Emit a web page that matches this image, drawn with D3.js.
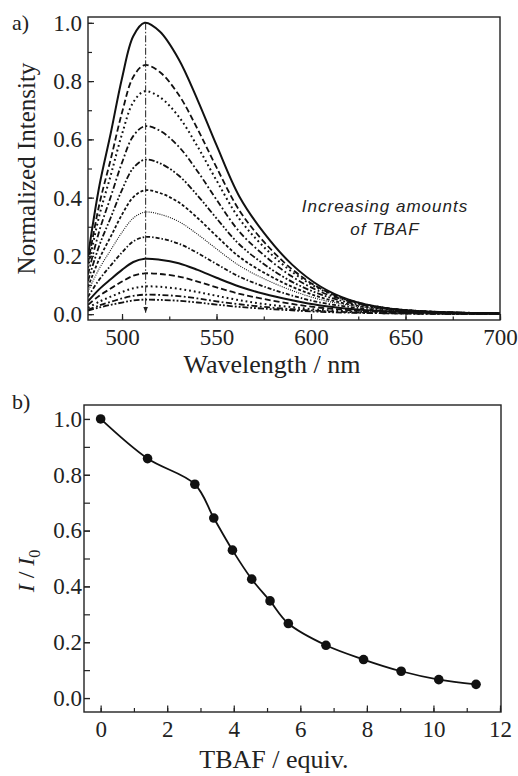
<!DOCTYPE html>
<html>
<head>
<meta charset="utf-8">
<script src="https://cdn.jsdelivr.net/npm/d3@7"></script>
<style>
  body { margin: 0; background: #fff; }
  svg { display: block; }
  .tick line { stroke: #222; stroke-width: 1.2; }
</style>
</head>
<body>
<div id="chart"></div>
<script>
// panel a: emission spectra (normalized) for each TBAF addition
const wavelengths = [482, 488, 494, 500, 506, 512, 520, 530, 540, 550, 562, 575, 590, 605, 620, 640, 665, 700];
const spectra = [
  [0.200, 0.440, 0.620, 0.810, 0.955, 1.000, 0.970, 0.875, 0.735, 0.580, 0.405, 0.280, 0.170, 0.095, 0.050, 0.020, 0.008, 0.002],
  [0.174, 0.377, 0.531, 0.692, 0.815, 0.855, 0.831, 0.753, 0.635, 0.504, 0.357, 0.249, 0.154, 0.088, 0.048, 0.021, 0.008, 0.003],
  [0.159, 0.339, 0.476, 0.618, 0.728, 0.765, 0.745, 0.678, 0.575, 0.459, 0.328, 0.231, 0.145, 0.085, 0.048, 0.021, 0.008, 0.003],
  [0.136, 0.286, 0.402, 0.520, 0.612, 0.645, 0.630, 0.575, 0.490, 0.393, 0.284, 0.203, 0.129, 0.077, 0.045, 0.020, 0.008, 0.003],
  [0.114, 0.236, 0.331, 0.427, 0.502, 0.530, 0.518, 0.476, 0.407, 0.329, 0.240, 0.172, 0.111, 0.068, 0.040, 0.019, 0.007, 0.003],
  [0.093, 0.190, 0.266, 0.342, 0.402, 0.425, 0.416, 0.384, 0.330, 0.268, 0.197, 0.143, 0.094, 0.058, 0.034, 0.017, 0.007, 0.003],
  [0.078, 0.157, 0.220, 0.281, 0.330, 0.350, 0.343, 0.318, 0.274, 0.224, 0.167, 0.122, 0.081, 0.050, 0.031, 0.015, 0.006, 0.003],
  [0.060, 0.119, 0.167, 0.212, 0.250, 0.265, 0.260, 0.242, 0.210, 0.172, 0.129, 0.095, 0.064, 0.040, 0.025, 0.012, 0.005, 0.002],
  [0.044, 0.086, 0.120, 0.152, 0.179, 0.190, 0.187, 0.175, 0.152, 0.125, 0.095, 0.070, 0.048, 0.030, 0.019, 0.010, 0.004, 0.002],
  [0.032, 0.063, 0.088, 0.112, 0.132, 0.140, 0.138, 0.129, 0.112, 0.092, 0.070, 0.052, 0.035, 0.022, 0.014, 0.007, 0.003, 0.001],
  [0.022, 0.043, 0.060, 0.076, 0.089, 0.095, 0.094, 0.087, 0.076, 0.063, 0.048, 0.035, 0.024, 0.015, 0.010, 0.005, 0.002, 0.001],
  [0.015, 0.030, 0.042, 0.054, 0.063, 0.067, 0.066, 0.062, 0.054, 0.044, 0.034, 0.025, 0.017, 0.011, 0.007, 0.003, 0.001, 0.001],
  [0.012, 0.023, 0.032, 0.040, 0.047, 0.050, 0.049, 0.046, 0.040, 0.033, 0.025, 0.019, 0.013, 0.008, 0.005, 0.003, 0.001, 0.000]
];
const peakWavelength = 512.5;
const xTicksA = [500, 550, 600, 650, 700];
const yTicks = [0.0, 0.2, 0.4, 0.6, 0.8, 1.0];

// panel b: relative intensity vs equivalents of TBAF
const tbafEquiv = [0, 1.41, 2.83, 3.40, 3.96, 4.54, 5.09, 5.64, 6.77, 7.90, 9.03, 10.16, 11.28];
const relIntensity = [1.0, 0.858, 0.766, 0.645, 0.530, 0.426, 0.348, 0.267, 0.189, 0.138, 0.096, 0.066, 0.049];
const xTicksB = [0, 2, 4, 6, 8, 10, 12];

// line styles cycle like the original plotting software
const dashes = [null, "6,3", "1.8,3", "6,2.5,1.8,2.5", "6,2,1.8,2,1.8,2", "3,2", "1,1.2", "4,2,1.5,2",
                null, "6,3", "1.8,3", "6,2.5,1.8,2.5", "6,2,1.8,2,1.8,2"];
const widths = [2, 1.8, 2, 1.8, 1.8, 1.8, 1.1, 1.8, 2, 1.8, 2, 1.8, 1.8];

const W = 518, H = 776
const serif = '"Liberation Serif", "Times New Roman", serif'

const svg = d3.select("#chart").append("svg")
    .attr("width", W)
    .attr("height", H)

svg.append("defs").append("marker")
    .attr("id", "arrow")
    .attr("viewBox", "0 0 10 10")
    .attr("refX", 10).attr("refY", 5)
    .attr("markerWidth", 6).attr("markerHeight", 6)
    .attr("markerUnits", "userSpaceOnUse")
    .attr("orient", "auto")
  .append("path")
    .attr("d", "M0,1 L10,5 L0,9 Z")
    .attr("fill", "#222")

function styleTicks(g) {
  g.select(".domain").remove()
  g.attr("font-family", serif).attr("font-size", 23)
  g.selectAll("text").attr("fill", "#222")
}

// ---------- panel a ----------
var a = {left: 88, right: 500, top: 17, bottom: 320}
var xA = d3.scaleLinear().domain([482, 700]).range([a.left, a.right])
var yA = d3.scaleLinear().domain([-0.02, 1.02]).range([a.bottom, a.top])

svg.append("clipPath").attr("id", "clipA")
  .append("rect").attr("x", a.left).attr("y", a.top)
  .attr("width", a.right - a.left).attr("height", a.bottom - a.top)

var lineA = d3.line()
    .x(function(d, i) { return xA(wavelengths[i]) })
    .y(function(d) { return yA(d) })
    .curve(d3.curveCatmullRom.alpha(0.5))

var gA = svg.append("g").attr("clip-path", "url(#clipA)")
gA.selectAll("path.spec")
    .data(spectra)
    .enter().append("path")
    .attr("class", "spec")
    .attr("d", lineA)
    .attr("fill", "none")
    .attr("stroke", "#111")
    .attr("stroke-width", function(d, i) { return widths[i] })
    .attr("stroke-dasharray", function(d, i) { return dashes[i] })

// arrow marking the decrease at the emission maximum
svg.append("line")
    .attr("x1", xA(peakWavelength)).attr("x2", xA(peakWavelength))
    .attr("y1", yA(1.0)).attr("y2", yA(0.005))
    .attr("stroke", "#222")
    .attr("stroke-width", 1)
    .attr("stroke-dasharray", "7,2,1.5,2")
    .attr("marker-end", "url(#arrow)")

svg.append("g")
    .attr("transform", "translate(0," + a.bottom + ")")
    .call(d3.axisBottom(xA).tickValues(d3.range(500, 701, 25)).tickSize(-3.5).tickFormat(""))
    .call(styleTicks)
svg.append("g")
    .attr("transform", "translate(0," + a.bottom + ")")
    .call(d3.axisBottom(xA).tickValues(xTicksA).tickSize(-6).tickPadding(9).tickFormat(d3.format("d")))
    .call(styleTicks)
svg.append("g")
    .attr("transform", "translate(" + a.left + ",0)")
    .call(d3.axisLeft(yA).tickValues(d3.range(0, 1.01, 0.1)).tickSize(-4).tickFormat(""))
    .call(styleTicks)
svg.append("g")
    .attr("transform", "translate(" + a.left + ",0)")
    .call(d3.axisLeft(yA).tickValues(yTicks).tickSize(-6).tickPadding(6).tickFormat(d3.format(".1f")))
    .call(styleTicks)

svg.append("rect")
    .attr("x", a.left).attr("y", a.top)
    .attr("width", a.right - a.left).attr("height", a.bottom - a.top)
    .attr("fill", "none").attr("stroke", "#222").attr("stroke-width", 1.4)

svg.append("text").attr("x", 12).attr("y", 30)
    .attr("font-family", serif).attr("font-size", 22).attr("fill", "#222").text("a)")

svg.append("text")
    .attr("transform", "translate(35," + ((a.top + a.bottom) / 2) + ") rotate(-90)")
    .attr("text-anchor", "middle")
    .attr("font-family", serif).attr("font-size", 25).attr("fill", "#222")
    .text("Normalized Intensity")

svg.append("text").attr("x", 272).attr("y", 373)
    .attr("text-anchor", "middle")
    .attr("font-family", serif).attr("font-size", 26).attr("fill", "#222")
    .text("Wavelength / nm")

var note = svg.append("text")
    .attr("text-anchor", "middle")
    .attr("font-family", '"Liberation Sans", Arial, sans-serif')
    .attr("font-style", "italic").attr("font-size", 17).attr("letter-spacing", 1).attr("fill", "#222")
note.append("tspan").attr("x", 385).attr("y", 212).text("Increasing amounts")
note.append("tspan").attr("x", 385).attr("y", 235).text("of TBAF")

// ---------- panel b ----------
var b = {left: 84, right: 501, top: 405, bottom: 712}
var xB = d3.scaleLinear().domain([-0.5, 12.03]).range([b.left, b.right])
var yB = d3.scaleLinear().domain([-0.05, 1.05]).range([b.bottom, b.top])

var lineB = d3.line()
    .x(function(d, i) { return xB(tbafEquiv[i]) })
    .y(function(d) { return yB(d) })
    .curve(d3.curveCatmullRom.alpha(0.5))

svg.append("path")
    .datum(relIntensity)
    .attr("d", lineB)
    .attr("fill", "none")
    .attr("stroke", "#111")
    .attr("stroke-width", 1.8)

svg.selectAll("circle.pt")
    .data(relIntensity)
    .enter().append("circle")
    .attr("class", "pt")
    .attr("cx", function(d, i) { return xB(tbafEquiv[i]) })
    .attr("cy", function(d) { return yB(d) })
    .attr("r", 4.8)
    .attr("fill", "#111")

svg.append("g")
    .attr("transform", "translate(0," + b.bottom + ")")
    .call(d3.axisBottom(xB).tickValues(d3.range(0, 13, 1)).tickSize(-4).tickFormat(""))
    .call(styleTicks)
svg.append("g")
    .attr("transform", "translate(0," + b.bottom + ")")
    .call(d3.axisBottom(xB).tickValues(xTicksB).tickSize(-6.5).tickPadding(9).tickFormat(d3.format("d")))
    .call(styleTicks)
svg.append("g")
    .attr("transform", "translate(" + b.left + ",0)")
    .call(d3.axisLeft(yB).tickValues(d3.range(0, 1.01, 0.1)).tickSize(-6).tickFormat(""))
    .call(styleTicks)
svg.append("g")
    .attr("transform", "translate(" + b.left + ",0)")
    .call(d3.axisLeft(yB).tickValues(yTicks).tickSize(-6).tickPadding(2).tickFormat(d3.format(".1f")))
    .call(styleTicks)

svg.append("rect")
    .attr("x", b.left).attr("y", b.top)
    .attr("width", b.right - b.left).attr("height", b.bottom - b.top)
    .attr("fill", "none").attr("stroke", "#222").attr("stroke-width", 1.4)

svg.append("text").attr("x", 12).attr("y", 409)
    .attr("font-family", serif).attr("font-size", 22).attr("fill", "#222").text("b)")

var yLab = svg.append("text")
    .attr("transform", "translate(34,571) rotate(-90)")
    .attr("text-anchor", "middle")
    .attr("font-family", serif).attr("font-size", 24).attr("fill", "#222")
yLab.append("tspan").attr("font-style", "italic").text("I")
yLab.append("tspan").text(" / ")
yLab.append("tspan").attr("font-style", "italic").text("I")
yLab.append("tspan").attr("font-size", 16).attr("dy", 6).text("0")

svg.append("text").attr("x", 274).attr("y", 768)
    .attr("text-anchor", "middle")
    .attr("font-family", serif).attr("font-size", 26).attr("fill", "#222")
    .text("TBAF / equiv.")
</script>
</body>
</html>
